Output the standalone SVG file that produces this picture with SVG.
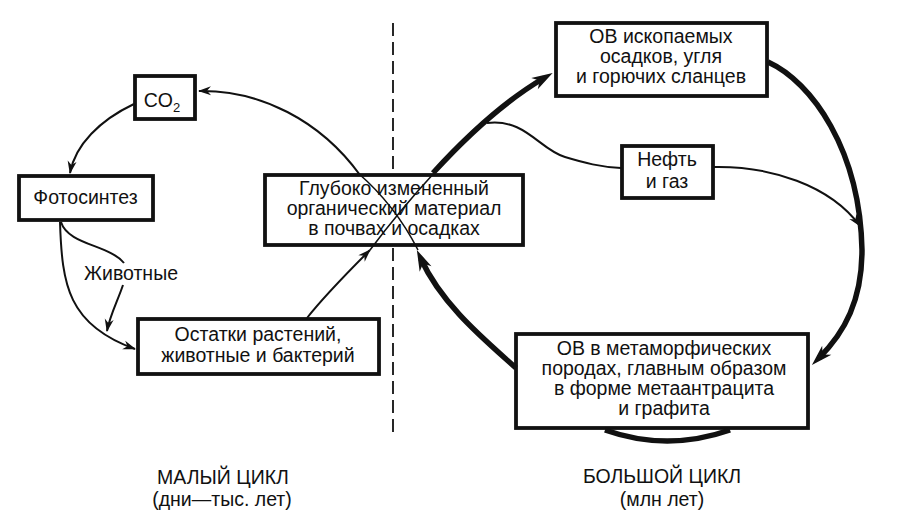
<svg xmlns="http://www.w3.org/2000/svg" width="910" height="529" viewBox="0 0 910 529">
<style>
  .box { fill: #ffffff; stroke: #111; stroke-width: 3.8; }
  .t { font-family: "Liberation Sans", Arial, sans-serif; font-size: 19.5px; fill: #111; text-anchor: middle; }
  .thin { fill: none; stroke: #111; stroke-width: 2; }
  .thick { fill: none; stroke: #111; stroke-width: 5.5; }
  .cross { fill: none; stroke: #111; stroke-width: 1.6; }
  .dash { fill: none; stroke: #111; stroke-width: 1.8; stroke-dasharray: 13 6; }
</style>
<defs>
  <marker id="ah" viewBox="-14 -6 16 12" markerWidth="16" markerHeight="12" refX="-1" refY="0" orient="auto" markerUnits="userSpaceOnUse">
    <path d="M0,0 L-13,-4.5 L-9,0 L-13,4.5 z" fill="#111"/>
  </marker>
  <marker id="ahT" viewBox="-22 -8 24 16" markerWidth="24" markerHeight="16" refX="-10" refY="0" orient="auto" markerUnits="userSpaceOnUse">
    <path d="M0,0 L-21,-6.5 L-15,0 L-21,6.5 z" fill="#111"/>
  </marker>
</defs>
<rect width="910" height="529" fill="#ffffff"/>

<g id="nodes">
  <g id="co2">
    <rect class="box" x="135" y="76" width="60" height="43"/>
    <text class="t" x="162" y="107">CO<tspan font-size="13" dy="5">2</tspan></text>
  </g>
  <g id="photosynthesis">
    <rect class="box" x="19" y="176" width="134" height="44"/>
    <text class="t" x="85.5" y="204">Фотосинтез</text>
  </g>
  <g id="remains">
    <rect class="box" x="138" y="319" width="241" height="55"/>
    <text class="t" x="258" y="341">Остатки растений,</text>
    <text class="t" x="258" y="362">животные и бактерий</text>
  </g>
  <g id="deep">
    <rect class="box" x="265" y="175" width="258" height="70"/>
    <text class="t" x="394" y="195">Глубоко измененный</text>
    <text class="t" x="394" y="215">органический материал</text>
    <text class="t" x="394" y="235">в почвах и осадках</text>
  </g>
  <g id="fossil">
    <rect class="box" x="556" y="23" width="211" height="73"/>
    <text class="t" x="661" y="43">ОВ ископаемых</text>
    <text class="t" x="661" y="63">осадков, угля</text>
    <text class="t" x="661" y="83">и горючих сланцев</text>
  </g>
  <g id="oil">
    <rect class="box" x="622" y="146" width="91" height="52"/>
    <text class="t" x="667" y="166">Нефть</text>
    <text class="t" x="667" y="188">и газ</text>
  </g>
  <g id="meta">
    <rect class="box" x="516" y="334" width="292" height="94"/>
    <text class="t" x="664" y="355">ОВ в метаморфических</text>
    <text class="t" x="664" y="375">породах, главным образом</text>
    <text class="t" x="664" y="395">в форме метаантрацита</text>
    <text class="t" x="664" y="415">и графита</text>
  </g>
</g>

<g id="connectors">
  <path class="dash" d="M393,23 V173"/>
  <path class="dash" d="M393,248 V438"/>
  <!-- small cycle -->
  <path class="thin" d="M360,175 C320,120 260,90 199,91" marker-end="url(#ah)"/>
  <path class="thin" d="M134,104 C100,120 75,145 70,173" marker-end="url(#ah)"/>
  <path class="thin" d="M60,222 C62,285 68,325 135,349" marker-end="url(#ah)"/>
  <path class="thin" d="M61,222 C68,245 110,245 124,263"/>
  <path class="thin" d="M123,285 C118,300 110,315 107,331" marker-end="url(#ah)"/>
  <path class="thin" d="M307,318 C325,295 350,270 370,250" marker-end="url(#ah)"/>
  <!-- crossing through centre box -->
  <path class="cross" d="M358,173 Q395,205 418,250"/>
  <path class="cross" d="M370,250 Q400,210 435,172"/>
  <!-- big cycle -->
  <path class="thick" d="M433,173 C465,138 503,102 544,78" marker-end="url(#ahT)"/>
  <path class="thick" d="M768,62 C812,82 860,150 862,250 C862,300 845,332 819,358" marker-end="url(#ahT)"/>
  <path class="thick" d="M605,430 Q667,452 730,430"/>
  <path class="thick" d="M516,368 C485,340 442,305 421,259" marker-end="url(#ahT)"/>
  <!-- oil and gas -->
  <path class="thin" d="M487,123 C525,118 540,150 565,157 C585,163 600,167 621,168"/>
  <path class="thin" d="M714,167 C770,166 830,185 860,226" marker-end="url(#ah)"/>
</g>

<g id="labels">
  <text class="t" x="223" y="484">МАЛЫЙ ЦИКЛ</text>
  <text class="t" x="222" y="506">(дни—тыс. лет)</text>
  <text class="t" x="662" y="483">БОЛЬШОЙ ЦИКЛ</text>
  <text class="t" x="662" y="506">(млн лет)</text>
  <text class="t" x="131" y="280">Животные</text>
</g>
</svg>
